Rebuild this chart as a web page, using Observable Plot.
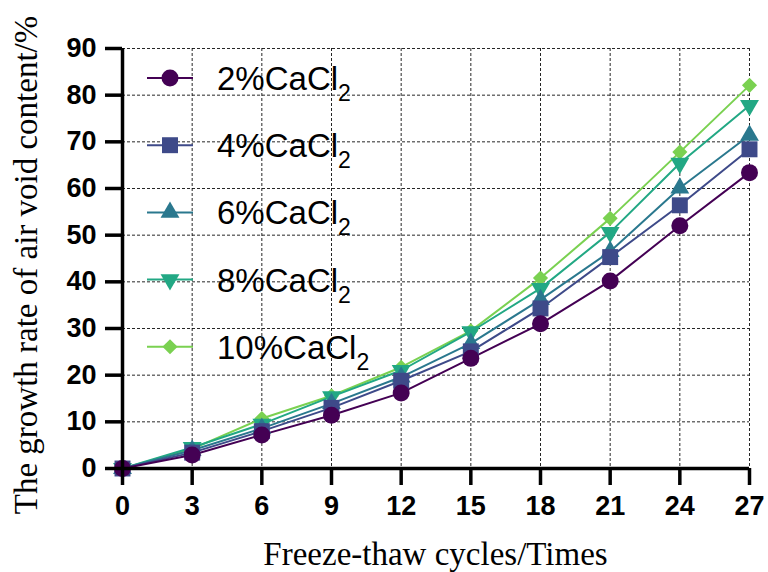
<!DOCTYPE html>
<html>
<head>
<meta charset="utf-8">
<script src="https://cdn.jsdelivr.net/npm/d3@7"></script>
<script src="https://cdn.jsdelivr.net/npm/@observablehq/plot@0.6"></script>
<style>
  html, body { margin: 0; padding: 0; background: #fff; }
  #chart { width: 768px; height: 572px; }
</style>
</head>
<body>
<div id="chart"></div>
<script>
const cycles = [0, 3, 6, 9, 12, 15, 18, 21, 24, 27];
const yTicks = [0, 10, 20, 30, 40, 50, 60, 70, 80, 90];
const seriesNames = ["2%", "4%", "6%", "8%", "10%"];
const s2  = [0, 2.9, 7.2, 11.4, 16.2, 23.6, 31.0, 40.2, 52.0, 63.4];
const s4  = [0, 3.4, 8.0, 13.0, 18.8, 25.1, 34.3, 45.3, 56.4, 68.4];
const s6  = [0, 3.9, 8.6, 13.9, 19.6, 26.8, 36.2, 46.5, 60.1, 71.4];
const s8  = [0, 4.5, 9.5, 15.4, 21.0, 29.3, 38.6, 50.6, 65.4, 77.8];
const s10 = [0, 4.2, 10.7, 15.6, 21.7, 29.5, 40.8, 53.6, 67.8, 82.1];
const colors = ["#440154", "#3e4a89", "#2a788e", "#22a884", "#7ad151"];

const triangleDown = {
  draw(ctx, size) {
    const y = Math.sqrt(size / (3 * Math.sqrt(3)));
    ctx.moveTo(0, 2 * y);
    ctx.lineTo(-Math.sqrt(3) * y, -y);
    ctx.lineTo(Math.sqrt(3) * y, -y);
    ctx.closePath();
  }
};
const symbols = [d3.symbolCircle, d3.symbolSquare, d3.symbolTriangle, triangleDown, d3.symbolDiamond2];
const radii = [8.5, 9, 7, 7, 6.8];

const values = [s2, s4, s6, s8, s10];
const data = [];
values.forEach((vals, si) => {
  vals.forEach((v, i) => data.push({series: seriesNames[si], si, x: cycles[i], y: v}));
});

const order = [4, 3, 2, 1, 0]; // draw 10% first so 2% sits on top
const marks = [
  Plot.gridX(cycles.slice(1), {stroke: "#000", strokeOpacity: 0.85, strokeWidth: 1, strokeDasharray: "3,2"}),
  Plot.gridY(yTicks.slice(1), {stroke: "#000", strokeOpacity: 0.85, strokeWidth: 1, strokeDasharray: "3,2"}),
];
for (const si of order) {
  const d = data.filter(r => r.si === si);
  marks.push(Plot.line(d, {x: "x", y: "y", stroke: colors[si], strokeWidth: 2}));
}
for (const si of order) {
  const d = data.filter(r => r.si === si);
  marks.push(Plot.dot(d, {x: "x", y: "y", fill: colors[si], stroke: "none", symbol: symbols[si], r: radii[si]}));
}
marks.push(
  Plot.ruleX([0], {strokeWidth: 3.5, stroke: "#000"}),
  Plot.ruleY([0], {strokeWidth: 3.5, stroke: "#000"}),
  Plot.axisX({ticks: cycles, tickSize: 17, tickPadding: 10, strokeWidth: 3.5, fontSize: 27, fontWeight: "bold",
    fontFamily: "Liberation Sans, Arial, sans-serif", label: null, tickFormat: d => String(d)}),
  Plot.axisY({ticks: yTicks, tickSize: 17, tickPadding: 9, strokeWidth: 3.5, fontSize: 27, fontWeight: "bold",
    fontFamily: "Liberation Sans, Arial, sans-serif", label: null, tickFormat: d => String(d)})
);

const svg = Plot.plot({
  width: 768,
  height: 572,
  marginLeft: 122,
  marginRight: 19,
  marginTop: 48,
  marginBottom: 104,
  x: {domain: [0, 27]},
  y: {domain: [0, 90]},
  style: {background: "#fff", color: "#000", overflow: "visible"},
  marks
});

const sel = d3.select(svg);
// axis titles
sel.append("text")
  .attr("transform", "translate(37,265) rotate(-90)")
  .attr("text-anchor", "middle")
  .attr("font-family", "Liberation Serif, Times New Roman, serif")
  .attr("font-size", 33)
  .attr("fill", "#000")
  .text("The growth rate of air void content/%");
sel.append("text")
  .attr("x", 435.5).attr("y", 565)
  .attr("text-anchor", "middle")
  .attr("font-family", "Liberation Serif, Times New Roman, serif")
  .attr("font-size", 33)
  .attr("fill", "#000")
  .text("Freeze-thaw cycles/Times");

// legend
const lg = sel.append("g").attr("font-family", "Liberation Sans, Arial, sans-serif").attr("text-anchor", "start");
seriesNames.forEach((name, si) => {
  const cy = 78 + si * 67.2;
  const g = lg.append("g").attr("transform", `translate(0,${cy})`);
  g.append("line").attr("x1", 147).attr("x2", 193).attr("y1", 0).attr("y2", 0)
    .attr("stroke", colors[si]).attr("stroke-width", 2);
  g.append("path").attr("transform", "translate(170,0)")
    .attr("d", d3.symbol(symbols[si], radii[si] * radii[si] * Math.PI)())
    .attr("fill", colors[si]);
  const t = g.append("text").attr("x", 217).attr("y", 12).attr("font-size", 33)
    .attr("text-anchor", "start").attr("fill", "#000");
  t.append("tspan").text(name + "CaCl");
  t.append("tspan").attr("dy", 11).attr("font-size", 23).text("2");
});

document.getElementById("chart").appendChild(svg);
</script>
</body>
</html>
